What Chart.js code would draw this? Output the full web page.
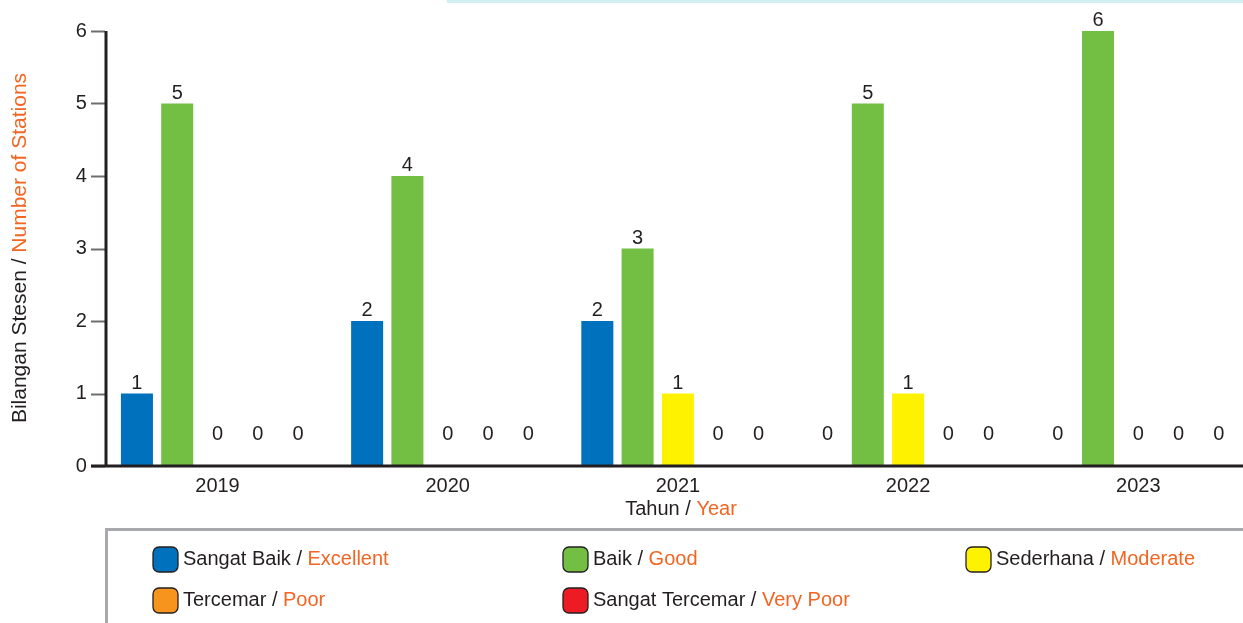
<!DOCTYPE html>
<html>
<head>
<meta charset="utf-8">
<script src="https://cdn.jsdelivr.net/npm/chart.js@4.4.1/dist/chart.umd.min.js"></script>
<style>
  html, body { margin: 0; padding: 0; background: #fff; overflow: hidden; }
  #wrap { position: relative; width: 1243px; height: 623px; overflow: hidden; }
  #box { position: absolute; left: 0; top: 0; width: 1260px; height: 623px; }
  #topline { position: absolute; left: 447px; top: 0; width: 796px; height: 3px; background: #d4eff2; }
</style>
</head>
<body>
<div id="wrap">
  <div id="box"><canvas id="myChart" width="1260" height="623"></canvas></div>
  <div id="topline"></div>
</div>
<script>
const years = ["2019", "2020", "2021", "2022", "2023"];
const sangatBaik = [1, 2, 2, 0, 0];
const baik = [5, 4, 3, 5, 6];
const sederhana = [0, 0, 1, 1, 0];
const tercemar = [0, 0, 0, 0, 0];
const sangatTercemar = [0, 0, 0, 0, 0];
const yTicks = [0, 1, 2, 3, 4, 5, 6];
const classMalay = ["Sangat Baik", "Baik", "Sederhana", "Tercemar", "Sangat Tercemar"];
const classEnglish = ["Excellent", "Good", "Moderate", "Poor", "Very Poor"];
const classColors = ["#0071bc", "#72bf44", "#fff200", "#f7941d", "#ed1c24"];

const FONT = "'Liberation Sans', Arial, sans-serif";
const DARK = "#231f20";
const ORANGE = "#f26522";

const ctx = document.getElementById("myChart");

// draws "black / orange" text pieces starting at x
function twoTone(c, black, orange, x, y) {
  c.fillStyle = DARK;
  c.fillText(black, x, y);
  const w = c.measureText(black).width;
  c.fillStyle = ORANGE;
  c.fillText(orange, x + w, y);
}

const extras = {
  id: "extras",
  afterDatasetsDraw(chart) {
    const c = chart.ctx;
    const y0 = chart.scales.y.getPixelForValue(0);
    c.save();
    c.font = "20px " + FONT;
    c.fillStyle = DARK;
    c.textAlign = "center";
    c.textBaseline = "middle";
    chart.data.datasets.forEach((ds, i) => {
      chart.getDatasetMeta(i).data.forEach((bar, j) => {
        const v = ds.data[j];
        const y = v > 0 ? bar.y - 10.5 : y0 - 32;
        c.fillText(String(v), bar.x, y);
      });
    });
    c.restore();
  },
  afterDraw(chart) {
    const c = chart.ctx;
    const area = chart.chartArea;
    const ys = chart.scales.y;
    c.save();
    // y axis with tick marks
    c.strokeStyle = "#6d6e71";
    c.lineWidth = 2;
    yTicks.forEach((t) => {
      const py = Math.round(ys.getPixelForValue(t)) + 0.5;
      c.beginPath();
      c.moveTo(91, py);
      c.lineTo(105, py);
      c.stroke();
    });
    c.strokeStyle = DARK;
    c.lineWidth = 3;
    c.beginPath();
    c.moveTo(106, area.top);
    c.lineTo(106, area.bottom);
    c.stroke();
    // x axis line
    c.beginPath();
    c.moveTo(91, area.bottom);
    c.lineTo(chart.width, area.bottom);
    c.stroke();

    c.font = "20px " + FONT;
    c.textBaseline = "middle";

    // x title
    const xb = "Tahun / ", xo = "Year";
    const xw = c.measureText(xb + xo).width;
    c.textAlign = "left";
    twoTone(c, xb, xo, 681 - xw / 2, 509);

    // y title
    c.save();
    c.font = "21px " + FONT;
    c.translate(20, 248);
    c.rotate(-Math.PI / 2);
    const yb = "Bilangan Stesen / ", yo = "Number of Stations";
    const yw = c.measureText(yb + yo).width;
    twoTone(c, yb, yo, -yw / 2, 0);
    c.restore();

    // legend box
    c.strokeStyle = "#a7a9ac";
    c.lineWidth = 3;
    c.strokeRect(106.5, 529.5, chart.width, 200);

    const cols = [153, 563, 966];
    const rows = [547, 588];
    chart.data.datasets.forEach((ds, i) => {
      const x = cols[i % 3];
      const y = rows[Math.floor(i / 3)];
      c.beginPath();
      c.roundRect(x, y, 25, 25, 6);
      c.fillStyle = classColors[i];
      c.fill();
      c.lineWidth = 1.3;
      c.strokeStyle = DARK;
      c.stroke();
      twoTone(c, classMalay[i] + " / ", classEnglish[i], x + 30, y + 12.5);
    });
    c.restore();
  },
};

const series = [sangatBaik, baik, sederhana, tercemar, sangatTercemar];

new Chart(ctx, {
  type: "bar",
  data: {
    labels: years,
    datasets: series.map((d, i) => ({
      label: classMalay[i] + " / " + classEnglish[i],
      data: d,
      backgroundColor: classColors[i],
      borderWidth: 0,
      categoryPercentage: 0.875,
      barPercentage: 0.795,
    })),
  },
  options: {
    responsive: false,
    devicePixelRatio: 1,
    animation: false,
    layout: { padding: { left: 0, top: 31, right: 6.6, bottom: 117 } },
    plugins: {
      legend: { display: false },
      tooltip: { enabled: false },
    },
    scales: {
      x: {
        grid: { display: false, drawTicks: false },
        border: { display: false },
        ticks: { font: { size: 20, family: FONT }, color: DARK, padding: 8 },
        afterFit(scale) { scale.height = 40; },
      },
      y: {
        min: 0,
        max: 6,
        ticks: { stepSize: 1, font: { size: 20, family: FONT }, color: DARK, padding: 15.5 },
        grid: { display: false, drawTicks: false },
        border: { display: false },
        afterFit(scale) { scale.width = 102.4; },
      },
    },
  },
  plugins: [extras],
});
</script>
</body>
</html>
